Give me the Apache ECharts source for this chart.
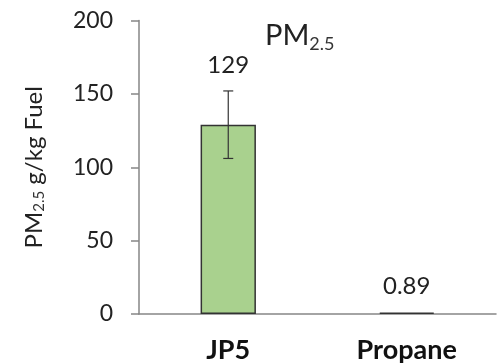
<!DOCTYPE html>
<html><head><meta charset="utf-8">
<script src="https://cdn.jsdelivr.net/npm/echarts@6/dist/echarts.min.js"></script>
<style>html,body{margin:0;padding:0;background:#fff}#c{width:503px;height:364px}</style>
</head><body><div id="c"></div>
<script>
const categories = ['JP5', 'Propane'];
const values = [129, 0.89];
const errLow = [106, 0.89];
const errHigh = [152, 0.89];
const labels = ['129', '0.89'];
const yTicks = [0, 50, 100, 150, 200];

const FONT = 'Lato';
const chart = echarts.init(document.getElementById('c'));
chart.setOption({
  animation: false,
  title: {
    text: '{a|PM}{b|2.5}',
    left: 260, top: 14,
    textStyle: {
      rich: {
        a: { fontFamily: FONT, fontSize: 29, fontWeight: 'normal', color: '#222' },
        b: { fontFamily: FONT, fontSize: 18, fontWeight: 'normal', color: '#333', padding: [16, 0, 0, 0] }
      }
    }
  },
  grid: { left: 139, right: 7, top: 20.5, bottom: 48, containLabel: false },
  xAxis: {
    type: 'category', data: categories,
    axisLine: { lineStyle: { color: '#868686', width: 1.5 } },
    axisTick: { show: false },
    axisLabel: { fontFamily: FONT, fontSize: 27, fontWeight: 'bold', color: '#111', margin: 23 }
  },
  yAxis: {
    type: 'value', min: yTicks[0], max: yTicks[yTicks.length - 1], interval: 50,
    axisLine: { show: true, lineStyle: { color: '#868686', width: 1.5 } },
    axisTick: { show: true, length: 8, lineStyle: { color: '#868686', width: 1.5 } },
    splitLine: { show: false },
    axisLabel: { fontFamily: FONT, fontSize: 23, color: '#222', margin: 26 },
    name: '{a|PM}{b|2.5}{a| g/kg Fuel}',
    nameLocation: 'middle', nameGap: 92, nameRotate: 90,
    nameTextStyle: {
      rich: {
        a: { fontFamily: FONT, fontSize: 24, color: '#222' },
        b: { fontFamily: FONT, fontSize: 15, color: '#333', padding: [11, 0, 0, 0] }
      }
    }
  },
  series: [
    {
      type: 'bar', data: values, barWidth: '31%',
      itemStyle: { color: '#a9d18e', borderColor: '#333', borderWidth: 1.5 }
    },
    {
      type: 'custom',
      data: categories.map((c, i) => [i, errLow[i], errHigh[i], values[i]]),
      renderItem: function (params, api) {
        const i = api.value(0);
        const lo = api.coord([i, api.value(1)]);
        const hi = api.coord([i, api.value(2)]);
        const children = [];
        if (api.value(2) > api.value(1)) {
          const x = lo[0];
          const s = { stroke: '#333', lineWidth: 1.2 };
          children.push({ type: 'line', shape: { x1: x, y1: lo[1], x2: x, y2: hi[1] }, style: s });
          children.push({ type: 'line', shape: { x1: x - 5, y1: lo[1], x2: x + 5, y2: lo[1] }, style: s });
          children.push({ type: 'line', shape: { x1: x - 5, y1: hi[1], x2: x + 5, y2: hi[1] }, style: s });
        }
        children.push({
          type: 'text',
          style: {
            text: labels[params.dataIndex], x: hi[0], y: hi[1] - 14,
            align: 'center', verticalAlign: 'bottom',
            font: '24px ' + FONT, fill: '#222'
          }
        });
        return { type: 'group', children: children };
      },
      z: 5
    }
  ]
});
</script></body></html>
